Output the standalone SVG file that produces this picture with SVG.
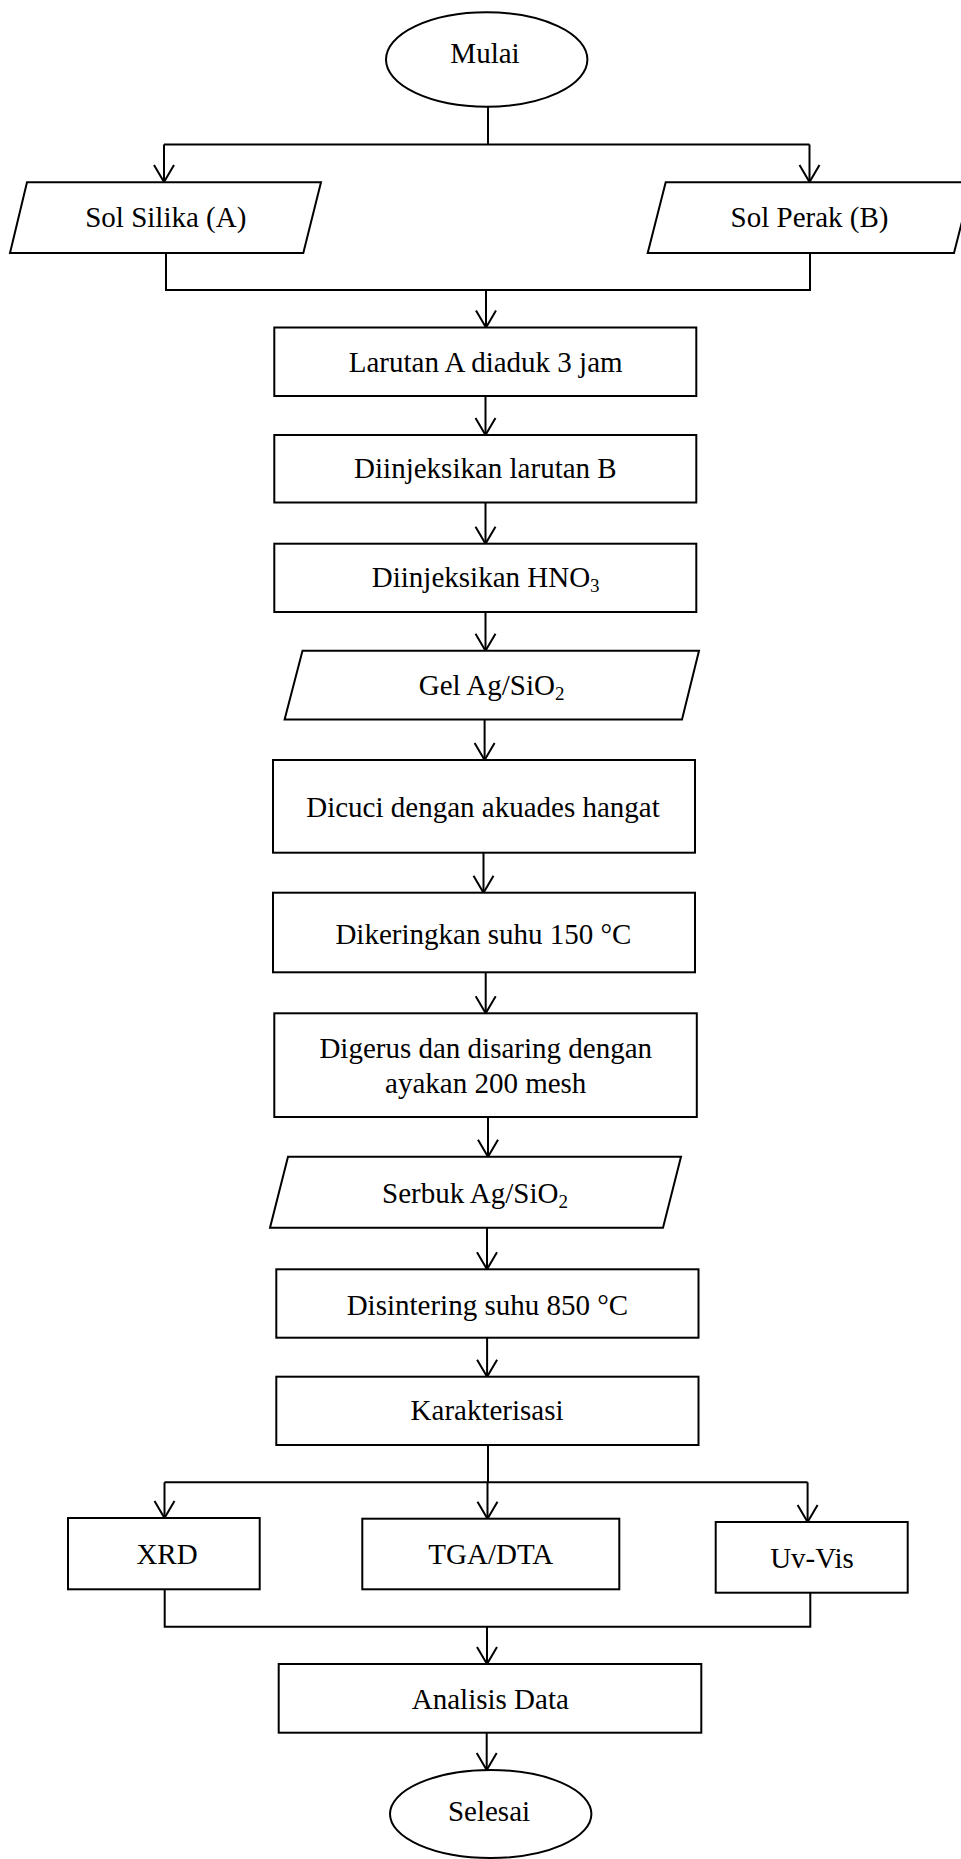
<svg xmlns="http://www.w3.org/2000/svg" width="961" height="1859" viewBox="0 0 961 1859">
  <style>
    .shape { fill: #ffffff; stroke: #000000; stroke-width: 2; }
    .wire { fill: none; stroke: #000000; stroke-width: 2; }
    .lbl { font-family: "Liberation Serif", "Times New Roman", serif; font-size: 29px; fill: #000000; text-anchor: middle; }
    .sub { font-size: 19px; }
  </style>
  <defs>
    <marker id="arrow" markerUnits="userSpaceOnUse" viewBox="-20 -12 24 24" markerWidth="24" markerHeight="24" refX="0" refY="0" orient="auto">
      <path d="M -17 -10 L 0 0 L -17 10" fill="none" stroke="#000000" stroke-width="2"/>
    </marker>
  </defs>
  <rect width="961" height="1859" fill="#ffffff"/>

  <!-- connectors -->
  <g id="connectors" class="wire">
    <path d="M 488 106.7 V 144.5"/>
    <path d="M 164 144.5 H 809.5"/>
    <path d="M 164 144.5 V 182" marker-end="url(#arrow)"/>
    <path d="M 809.5 144.5 V 182" marker-end="url(#arrow)"/>
    <path d="M 166 253 V 290 H 810 V 253"/>
    <path d="M 486 290 V 327.5" marker-end="url(#arrow)"/>
    <path d="M 485.5 396 V 435" marker-end="url(#arrow)"/>
    <path d="M 485.5 502.5 V 543.7" marker-end="url(#arrow)"/>
    <path d="M 485.5 612 V 650.7" marker-end="url(#arrow)"/>
    <path d="M 484.6 719.5 V 760" marker-end="url(#arrow)"/>
    <path d="M 483.5 852.7 V 892.7" marker-end="url(#arrow)"/>
    <path d="M 485.7 972.3 V 1013.3" marker-end="url(#arrow)"/>
    <path d="M 488 1117 V 1156.7" marker-end="url(#arrow)"/>
    <path d="M 487 1227.7 V 1269.3" marker-end="url(#arrow)"/>
    <path d="M 487.1 1337.7 V 1376.7" marker-end="url(#arrow)"/>
    <path d="M 488 1445 V 1482.3"/>
    <path d="M 164.5 1482.3 H 807.6"/>
    <path d="M 487.5 1482.3 V 1518.7" marker-end="url(#arrow)"/>
    <path d="M 164.5 1482.3 V 1518" marker-end="url(#arrow)"/>
    <path d="M 807.6 1482.3 V 1522" marker-end="url(#arrow)"/>
    <path d="M 164.7 1589.3 V 1626.7 H 810.3 V 1592.7"/>
    <path d="M 487 1626.7 V 1664" marker-end="url(#arrow)"/>
    <path d="M 486.7 1732.7 V 1770" marker-end="url(#arrow)"/>
  </g>

  <!-- start -->
  <g id="mulai">
    <ellipse class="shape" cx="486.7" cy="59.5" rx="100.7" ry="47.2"/>
    <text class="lbl" x="485" y="62.5">Mulai</text>
  </g>

  <!-- inputs -->
  <g id="sol-silika">
    <polygon class="shape" points="27,182.3 321,182.3 303.3,253 10,253"/>
    <text class="lbl" x="165.8" y="227.3">Sol Silika (A)</text>
  </g>
  <g id="sol-perak">
    <polygon class="shape" points="665.7,182.3 972,182.3 954,253 647.7,253"/>
    <text class="lbl" x="809.5" y="227.3">Sol Perak (B)</text>
  </g>

  <!-- process steps -->
  <g id="larutan-a">
    <rect class="shape" x="274.3" y="327.5" width="422" height="68.5"/>
    <text class="lbl" x="485.7" y="371.7">Larutan A diaduk 3 jam</text>
  </g>
  <g id="injeksi-b">
    <rect class="shape" x="274.3" y="435" width="422" height="67.5"/>
    <text class="lbl" x="485.4" y="478.3">Diinjeksikan larutan B</text>
  </g>
  <g id="injeksi-hno3">
    <rect class="shape" x="274.3" y="543.7" width="422" height="68.3"/>
    <text class="lbl" x="485.7" y="587.3">Diinjeksikan HNO<tspan class="sub" dy="5">3</tspan></text>
  </g>
  <g id="gel">
    <polygon class="shape" points="302.5,650.7 699,650.7 682,719.5 284.6,719.5"/>
    <text class="lbl" x="491.6" y="695">Gel Ag/SiO<tspan class="sub" dy="5">2</tspan></text>
  </g>
  <g id="dicuci">
    <rect class="shape" x="273" y="760" width="422" height="92.7"/>
    <text class="lbl" x="483" y="816.7">Dicuci dengan akuades hangat</text>
  </g>
  <g id="dikeringkan">
    <rect class="shape" x="273" y="892.7" width="422" height="79.6"/>
    <text class="lbl" x="483.4" y="944.3">Dikeringkan suhu 150 °C</text>
  </g>
  <g id="digerus">
    <rect class="shape" x="274.3" y="1013.3" width="422.5" height="103.7"/>
    <text class="lbl" x="485.7" y="1058">Digerus dan disaring dengan</text>
    <text class="lbl" x="485.7" y="1092.7">ayakan 200 mesh</text>
  </g>
  <g id="serbuk">
    <polygon class="shape" points="288,1156.7 681,1156.7 663,1227.7 270,1227.7"/>
    <text class="lbl" x="475" y="1202.7">Serbuk Ag/SiO<tspan class="sub" dy="5">2</tspan></text>
  </g>
  <g id="disintering">
    <rect class="shape" x="276.3" y="1269.3" width="422.2" height="68.4"/>
    <text class="lbl" x="487.4" y="1315">Disintering suhu 850 °C</text>
  </g>
  <g id="karakterisasi">
    <rect class="shape" x="276.3" y="1376.7" width="422.2" height="68.3"/>
    <text class="lbl" x="487.1" y="1420">Karakterisasi</text>
  </g>

  <!-- characterisation methods -->
  <g id="xrd">
    <rect class="shape" x="68" y="1518" width="191.7" height="71.3"/>
    <text class="lbl" x="167" y="1564.3">XRD</text>
  </g>
  <g id="tga-dta">
    <rect class="shape" x="362.3" y="1518.7" width="257" height="70.6"/>
    <text class="lbl" x="490.8" y="1564.3">TGA/DTA</text>
  </g>
  <g id="uv-vis">
    <rect class="shape" x="715.7" y="1522" width="192" height="70.7"/>
    <text class="lbl" x="812" y="1567.7">Uv-Vis</text>
  </g>

  <g id="analisis">
    <rect class="shape" x="278.7" y="1664" width="422.6" height="68.7"/>
    <text class="lbl" x="490.3" y="1709">Analisis Data</text>
  </g>

  <!-- end -->
  <g id="selesai">
    <ellipse class="shape" cx="490.7" cy="1814" rx="100.7" ry="44"/>
    <text class="lbl" x="489" y="1821">Selesai</text>
  </g>
</svg>
